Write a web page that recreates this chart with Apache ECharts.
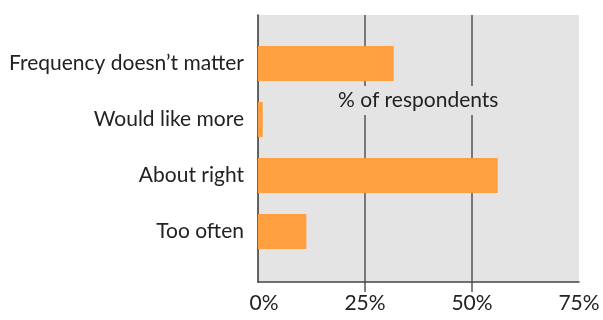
<!DOCTYPE html>
<html>
<head>
<meta charset="utf-8">
<script src="https://cdn.jsdelivr.net/npm/echarts@6/dist/echarts.min.js"></script>
<style>
html,body{margin:0;padding:0;background:#fff;}
#chart{width:603px;height:320px;}
</style>
</head>
<body>
<div id="chart"></div>
<script>
var categories = ["Frequency doesn\u2019t matter", "Would like more", "About right", "Too often"];
var values = [31.7, 1.1, 56.0, 11.3];
var xTicks = [0, 25, 50, 75];
var axisTitle = "% of respondents";

var FONT = "Lato";
var FS = 21;
var chart = echarts.init(document.getElementById('chart'), null, {renderer: 'canvas'});
chart.setOption({
  animation: false,
  backgroundColor: '#ffffff',
  textStyle: {fontFamily: FONT},
  title: {
    text: axisTitle,
    left: 332, top: 86,
    padding: [4, 6, 4, 6],
    backgroundColor: '#e4e4e4',
    textStyle: {fontFamily: FONT, fontSize: FS, fontWeight: 'normal', color: '#222'}
  },
  grid: [
    {left: 258, right: 24, top: 15, bottom: 38, show: true, backgroundColor: '#e4e4e4', borderWidth: 0, containLabel: false},
    {left: 258, right: 24, top: 35.5, height: 224, containLabel: false},
    {left: 258, right: 24, top: 282, height: 10, containLabel: false}
  ],
  xAxis: [
    {
      gridIndex: 0, type: 'value', min: xTicks[0], max: xTicks[xTicks.length - 1], interval: 25,
      axisLine: {show: true, lineStyle: {color: '#444', width: 1.5}},
      axisTick: {show: false},
      splitLine: {show: true, showMinLine: false, showMaxLine: false, lineStyle: {color: '#555', width: 1.5}},
      axisLabel: {
        fontSize: FS, color: '#222', fontFamily: FONT, margin: 11,
        formatter: function (v) { return v === 0 ? '{z|0%}' : v + '%'; },
        rich: {z: {fontSize: FS, color: '#222', fontFamily: FONT, padding: [0, 0, 0, 12]}}
      }
    },
    {gridIndex: 1, type: 'value', min: xTicks[0], max: xTicks[xTicks.length - 1], show: false},
    {
      gridIndex: 2, type: 'value', min: xTicks[0], max: xTicks[xTicks.length - 1], interval: 25,
      axisLine: {show: false}, axisTick: {show: false}, axisLabel: {show: false},
      splitLine: {show: true, showMinLine: false, showMaxLine: false, lineStyle: {color: '#555', width: 1.5}}
    }
  ],
  yAxis: [
    {
      gridIndex: 0, type: 'value', min: 0, max: 1,
      axisLine: {show: true, lineStyle: {color: '#333', width: 1.5}},
      axisTick: {show: false}, axisLabel: {show: false}, splitLine: {show: false}
    },
    {
      gridIndex: 1, type: 'category', data: categories, inverse: true,
      axisLine: {show: false}, axisTick: {show: false}, splitLine: {show: false},
      axisLabel: {fontSize: FS, color: '#222', fontFamily: FONT, margin: 14}
    },
    {gridIndex: 2, type: 'value', show: false}
  ],
  series: [{
    type: 'bar', xAxisIndex: 1, yAxisIndex: 1,
    data: values, barWidth: 35,
    itemStyle: {color: '#ff9f40'},
    z: 3
  }]
});
</script>
</body>
</html>
